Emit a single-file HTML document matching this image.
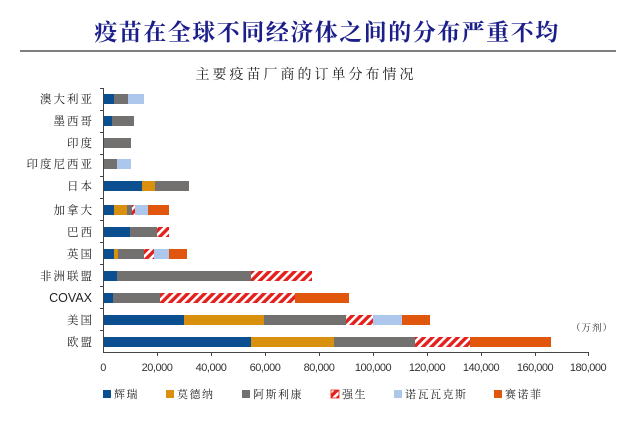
<!DOCTYPE html>
<html><head><meta charset="utf-8"><style>
body{margin:0;background:#fff;}
svg{display:block;}
text{font-family:"Liberation Sans","Noto Serif CJK SC","Noto Sans CJK SC",sans-serif;}
</style></head><body>
<svg width="640" height="426" viewBox="0 0 640 426" xmlns="http://www.w3.org/2000/svg">
<defs>
<pattern id="h" patternUnits="userSpaceOnUse" width="6" height="6" patternTransform="rotate(45)">
<rect width="6" height="6" fill="#e3201b"/><rect width="2.6" height="6" fill="#fff"/>
</pattern>
</defs>
<text x="327" y="40" text-anchor="middle" font-size="23" font-weight="bold" fill="#1c1f8a" font-family="Noto Serif CJK SC,serif" letter-spacing="1.5">疫苗在全球不同经济体之间的分布严重不均</text>
<line x1="20" y1="51" x2="616" y2="51" stroke="#333" stroke-width="1.2"/>
<text x="306" y="79" text-anchor="middle" font-size="14" fill="#222" font-family="Noto Serif CJK SC,serif" letter-spacing="3">主要疫苗厂商的订单分布情况</text>
<g font-size="11.5" fill="#222" text-anchor="end" font-family="Noto Serif CJK SC,serif" letter-spacing="2">
<text x="94" y="103">澳大利亚</text>
<text x="94" y="125">墨西哥</text>
<text x="94" y="147">印度</text>
<text x="94" y="168">印度尼西亚</text>
<text x="94" y="190">日本</text>
<text x="94" y="214">加拿大</text>
<text x="94" y="236">巴西</text>
<text x="94" y="258">英国</text>
<text x="94" y="280">非洲联盟</text>
<text x="92" y="302" font-family="Liberation Sans,sans-serif" font-size="12.5" letter-spacing="0">COVAX</text>
<text x="94" y="324">美国</text>
<text x="94" y="346">欧盟</text>
</g>
<g>
<rect x="103" y="94" width="11" height="10" fill="#0b4f91"/><rect x="114" y="94" width="14" height="10" fill="#737070"/><rect x="128" y="94" width="16" height="10" fill="#adc7ec"/>
<rect x="103" y="116" width="9" height="10" fill="#0b4f91"/><rect x="112" y="116" width="22" height="10" fill="#737070"/>
<rect x="103" y="138" width="28" height="10" fill="#737070"/>
<rect x="103" y="159" width="14" height="10" fill="#737070"/><rect x="117" y="159" width="14" height="10" fill="#adc7ec"/>
<rect x="103" y="181" width="39" height="10" fill="#0b4f91"/><rect x="142" y="181" width="13" height="10" fill="#d9900f"/><rect x="155" y="181" width="34" height="10" fill="#737070"/>
<rect x="103" y="205" width="11" height="10" fill="#0b4f91"/><rect x="114" y="205" width="13" height="10" fill="#d9900f"/><rect x="127" y="205" width="5" height="10" fill="#737070"/><rect x="132" y="205" width="3" height="10" fill="url(#h)"/><rect x="135" y="205" width="13" height="10" fill="#adc7ec"/><rect x="148" y="205" width="21" height="10" fill="#e0560c"/>
<rect x="103" y="227" width="27" height="10" fill="#0b4f91"/><rect x="130" y="227" width="27" height="10" fill="#737070"/><rect x="157" y="227" width="12" height="10" fill="url(#h)"/>
<rect x="103" y="249" width="11" height="10" fill="#0b4f91"/><rect x="114" y="249" width="4" height="10" fill="#d9900f"/><rect x="118" y="249" width="26" height="10" fill="#737070"/><rect x="144" y="249" width="10" height="10" fill="url(#h)"/><rect x="154" y="249" width="15" height="10" fill="#adc7ec"/><rect x="169" y="249" width="18" height="10" fill="#e0560c"/>
<rect x="103" y="271" width="14" height="10" fill="#0b4f91"/><rect x="117" y="271" width="134" height="10" fill="#737070"/><rect x="251" y="271" width="61" height="10" fill="url(#h)"/>
<rect x="103" y="293" width="10" height="10" fill="#0b4f91"/><rect x="113" y="293" width="47" height="10" fill="#737070"/><rect x="160" y="293" width="135" height="10" fill="url(#h)"/><rect x="295" y="293" width="54" height="10" fill="#e0560c"/>
<rect x="103" y="315" width="81" height="10" fill="#0b4f91"/><rect x="184" y="315" width="80" height="10" fill="#d9900f"/><rect x="264" y="315" width="82" height="10" fill="#737070"/><rect x="346" y="315" width="27" height="10" fill="url(#h)"/><rect x="373" y="315" width="29" height="10" fill="#adc7ec"/><rect x="402" y="315" width="28" height="10" fill="#e0560c"/>
<rect x="103" y="337" width="148" height="10" fill="#0b4f91"/><rect x="251" y="337" width="83" height="10" fill="#d9900f"/><rect x="334" y="337" width="81" height="10" fill="#737070"/><rect x="415" y="337" width="55" height="10" fill="url(#h)"/><rect x="470" y="337" width="81" height="10" fill="#e0560c"/>
</g>
<g stroke="#444" stroke-width="1">
<line x1="103.5" y1="88" x2="103.5" y2="353"/>
<line x1="103" y1="352.5" x2="589" y2="352.5"/>
<line x1="100" y1="88.5" x2="103" y2="88.5"/><line x1="100" y1="110.5" x2="103" y2="110.5"/><line x1="100" y1="132.5" x2="103" y2="132.5"/><line x1="100" y1="154.5" x2="103" y2="154.5"/><line x1="100" y1="176.5" x2="103" y2="176.5"/><line x1="100" y1="198.5" x2="103" y2="198.5"/><line x1="100" y1="220.5" x2="103" y2="220.5"/><line x1="100" y1="242.5" x2="103" y2="242.5"/><line x1="100" y1="264.5" x2="103" y2="264.5"/><line x1="100" y1="286.5" x2="103" y2="286.5"/><line x1="100" y1="308.5" x2="103" y2="308.5"/><line x1="100" y1="330.5" x2="103" y2="330.5"/>
<line x1="157.5" y1="352" x2="157.5" y2="356"/><line x1="211.5" y1="352" x2="211.5" y2="356"/><line x1="265.5" y1="352" x2="265.5" y2="356"/><line x1="319.5" y1="352" x2="319.5" y2="356"/><line x1="373.5" y1="352" x2="373.5" y2="356"/><line x1="427.5" y1="352" x2="427.5" y2="356"/><line x1="481.5" y1="352" x2="481.5" y2="356"/><line x1="535.5" y1="352" x2="535.5" y2="356"/><line x1="588.5" y1="352" x2="588.5" y2="356"/>
</g>
<g font-size="11" fill="#333" text-anchor="middle" letter-spacing="-0.5">
<text x="103" y="371">0</text><text x="157" y="371">20,000</text><text x="211" y="371">40,000</text><text x="265" y="371">60,000</text><text x="319" y="371">80,000</text><text x="373" y="371">100,000</text><text x="427" y="371">120,000</text><text x="481" y="371">140,000</text><text x="535" y="371">160,000</text><text x="588" y="371">180,000</text>
</g>
<text x="592" y="331" font-size="9.5" fill="#333" text-anchor="middle" font-family="Noto Serif CJK SC,serif" letter-spacing="1">（万剂）</text>
<g font-size="11" fill="#222" font-family="Noto Serif CJK SC,serif" letter-spacing="1.5">
<rect x="103" y="390" width="8" height="8" fill="#0b4f91"/><text x="114" y="398">辉瑞</text>
<rect x="166" y="390" width="8" height="8" fill="#d9900f"/><text x="177" y="398">莫德纳</text>
<rect x="242" y="390" width="8" height="8" fill="#737070"/><text x="253" y="398">阿斯利康</text>
<rect x="331" y="390" width="8" height="8" fill="url(#h)" stroke="#e3201b" stroke-width="0.8"/><text x="342" y="398">强生</text>
<rect x="394" y="390" width="8" height="8" fill="#adc7ec"/><text x="405" y="398">诺瓦瓦克斯</text>
<rect x="494" y="390" width="8" height="8" fill="#e0560c"/><text x="505" y="398">赛诺菲</text>
</g>
</svg>
</body></html>
